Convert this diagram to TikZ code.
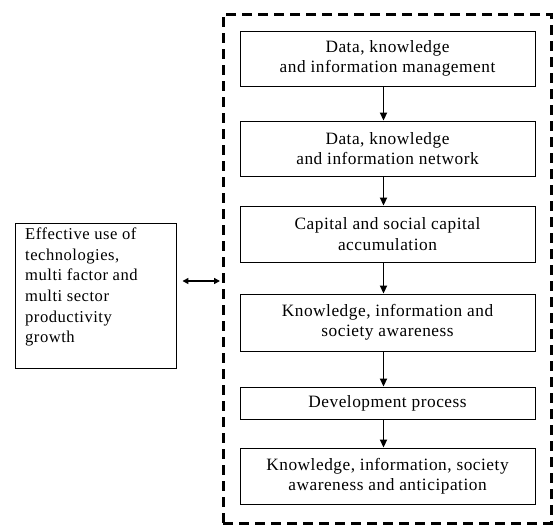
\documentclass[tikz,border=0pt]{standalone}
\usepackage{fontspec}
\setmainfont{Liberation Serif}[LetterSpace=3]
\usetikzlibrary{arrows.meta}
\tikzset{
  stepbox/.style={draw, line width=0.9pt, inner sep=0pt, minimum width=295pt, align=center, font=\fontsize{17.3}{20.5}\selectfont},
  flow/.style={-{Triangle[length=8pt,width=7pt]}, line width=1.9pt},
  frame/.style={draw, dash pattern=on 10pt off 6pt, line width=3pt},
}
\begin{document}
\begin{tikzpicture}[x=1pt,y=-1pt]
\useasboundingbox (0,0) rectangle (555,525);
\node[frame, inner sep=0pt, minimum width=328pt, minimum height=509pt] (fr) at (387,268.5) {};
\node[stepbox, minimum height=55pt] (b1) at (387.5,58.5) {Data, knowledge\\and information management};
\node[stepbox, minimum height=55pt] (b2) at (387.5,148.5) {Data, knowledge\\and information network};
\node[stepbox, minimum height=56pt] (b3) at (387.5,234) {Capital and social capital\\accumulation};
\node[stepbox, minimum height=57pt] (b4) at (387.5,322.5) {Knowledge, information and\\society awareness};
\node[stepbox, minimum height=32pt] (b5) at (387.5,403) {Development process};
\node[stepbox, minimum height=56pt] (b6) at (387.5,476) {Knowledge, information, society\\awareness and anticipation};
\node[draw, line width=0.9pt, minimum width=161pt, minimum height=145pt, inner sep=0pt] (lb) at (95.5,295.5) {};
\node[anchor=north west, align=left, inner sep=0pt, font=\fontsize{16.6}{20.7}\selectfont] (lt) at (25,227.5) {Effective use of\\technologies,\\multi factor and\\multi sector\\productivity\\growth};
\foreach \a/\b in {b1/b2,b2/b3,b3/b4,b4/b5,b5/b6}
  \draw[flow] ([xshift=-4pt]\a.south) -- ([xshift=-4pt]\b.north);
\coordinate (ae) at (220,281);
\draw[{Triangle[length=6pt,width=6pt]}-{Triangle[length=6pt,width=6pt]}, line width=1.6pt] (lb.east |- ae) ++(6,0) -- (ae);
\end{tikzpicture}
\end{document}
